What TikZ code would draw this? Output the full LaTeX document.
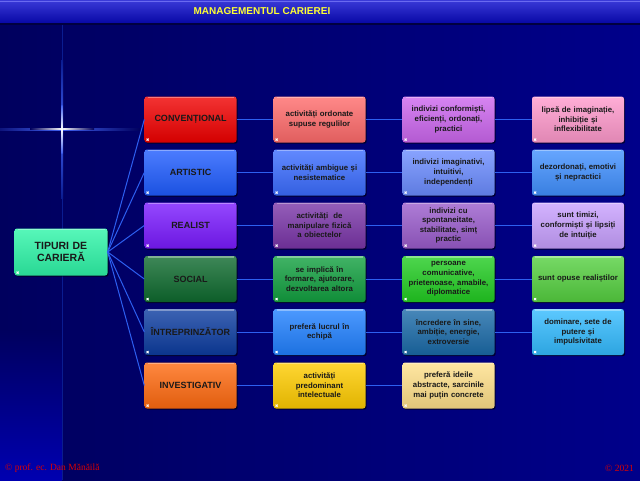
\documentclass[tikz,border=0pt]{standalone}
\usepackage{fontspec}
\setmainfont{Liberation Sans}
\newfontfamily\serifft{Liberation Serif}
\usetikzlibrary{shadows}
\definecolor{bgL}{HTML}{00005E}
\definecolor{bgR}{HTML}{00008A}
\definecolor{bgStrip}{HTML}{0000B0}
\definecolor{vline}{HTML}{0A1C90}
\definecolor{spark}{HTML}{4060F0}
\definecolor{barShadow}{HTML}{000040}
\definecolor{barTop}{HTML}{6A6AF0}
\definecolor{barT}{HTML}{3A3AD8}
\definecolor{barB}{HTML}{0A0AA8}
\definecolor{lnk}{HTML}{2D5FF0}
\definecolor{ttl}{HTML}{FFFF33}
\definecolor{foot}{HTML}{DD0000}
\definecolor{cA}{HTML}{2EF5A8}
\definecolor{r1a}{HTML}{F00000}\definecolor{r1b}{HTML}{FF6B6B}\definecolor{r1c}{HTML}{CC66EE}\definecolor{r1d}{HTML}{FF99CC}
\definecolor{r2a}{HTML}{1F5CFF}\definecolor{r2b}{HTML}{3A6CFF}\definecolor{r2c}{HTML}{6B8CFF}\definecolor{r2d}{HTML}{4090FF}
\definecolor{r3a}{HTML}{7A1AFF}\definecolor{r3b}{HTML}{7A35A8}\definecolor{r3c}{HTML}{9A5CCC}\definecolor{r3d}{HTML}{C8A0FF}
\definecolor{r4a}{HTML}{0E6A2E}\definecolor{r4b}{HTML}{12A040}\definecolor{r4c}{HTML}{22CC22}\definecolor{r4d}{HTML}{55D040}
\definecolor{r5a}{HTML}{0C3CA0}\definecolor{r5b}{HTML}{2080FF}\definecolor{r5c}{HTML}{1A6AA8}\definecolor{r5d}{HTML}{33BBFF}
\definecolor{r6a}{HTML}{FF6A10}\definecolor{r6b}{HTML}{FFCC00}\definecolor{r6c}{HTML}{FFE08A}
\tikzset{
  boxbase/.style={rounded corners=2.5pt, minimum width=92pt, minimum height=46pt,
    align=center, text width=90pt, inner sep=1pt, text=black!90,
    drop shadow={shadow xshift=1.2pt, shadow yshift=-1.2pt, opacity=0.6, fill=black},
    path picture={
      \fill[white] ([xshift=2pt,yshift=2pt]path picture bounding box.south west) rectangle ++(2pt,2pt);
      \draw[white,opacity=0.35,line width=1.4pt] ([xshift=3pt,yshift=-0.8pt]path picture bounding box.north west) -- ([xshift=-3pt,yshift=-0.8pt]path picture bounding box.north east);
    }},
  bx/.style={boxbase, top color=#1!80!white, bottom color=#1!88!black},
  headbox/.style={bx=#1, font=\bfseries\fontsize{9}{10.5}\selectfont},
  txtbox/.style={bx=#1, font=\bfseries\fontsize{7.8}{9.6}\selectfont},
  conn/.style={draw=lnk, line width=1pt}
}
\begin{document}
\begin{tikzpicture}[x=1pt,y=-1pt]
\useasboundingbox (0,0) rectangle (640,480);
% background
\shade[left color=bgL, right color=bgR] (0,0) rectangle (640,480);
\shade[top color=bgL, bottom color=bgStrip] (0,330) rectangle (62,480);
\draw[vline, line width=0.8pt] (62,22) -- (62,480);
% sparkle
\shade[left color=bgL, right color=bgL, middle color=spark] (-16,128) rectangle (140,130.4);
\shade[left color=bgL, right color=bgL, middle color=white] (30,128.6) rectangle (94,129.8);
\shade[top color=vline, bottom color=vline, middle color=spark] (61,60) rectangle (63,198);
\shade[top color=spark, bottom color=spark, middle color=white] (61.4,105) rectangle (62.6,153);
% title bar
\fill[barShadow] (0,22) rectangle (640,25);
\shade[top color=barT, bottom color=barB] (0,0) rectangle (640,22);
\draw[barTop, line width=1pt] (0,1) -- (640,1);
\node[text=ttl, font=\bfseries\fontsize{10}{12}\selectfont] (title) at (262,11.5) {MANAGEMENTUL CARIEREI};
% nodes
\node[bx=cA, minimum width=93pt, minimum height=47pt, font=\bfseries\fontsize{10.5}{12}\selectfont] (root) at (61,252) {TIPURI DE\\CARIERĂ};

\node[headbox=r1a] (a1) at (190.5,119.5) {CONVENȚIONAL};
\node[headbox=r2a] (a2) at (190.5,172.5) {ARTISTIC};
\node[headbox=r3a] (a3) at (190.5,225.5) {REALIST};
\node[headbox=r4a] (a4) at (190.5,279) {SOCIAL};
\node[headbox=r5a] (a5) at (190.5,332) {ÎNTREPRINZĂTOR};
\node[headbox=r6a] (a6) at (190.5,385.5) {INVESTIGATIV};

\node[txtbox=r1b] (b1) at (319.5,119.5) {activități ordonate\\supuse regulilor};
\node[txtbox=r2b] (b2) at (319.5,172.5) {activități ambigue și\\nesistematice};
\node[txtbox=r3b] (b3) at (319.5,225.5) {activități\ \ de\\manipulare fizică\\a obiectelor};
\node[txtbox=r4b] (b4) at (319.5,279) {se implică în\\formare, ajutorare,\\dezvoltarea altora};
\node[txtbox=r5b] (b5) at (319.5,332) {preferă lucrul în\\echipă};
\node[txtbox=r6b] (b6) at (319.5,385.5) {activități\\predominant\\intelectuale};

\node[txtbox=r1c] (c1) at (448.5,119.5) {indivizi conformiști,\\eficienți, ordonați,\\practici};
\node[txtbox=r2c] (c2) at (448.5,172.5) {indivizi imaginativi,\\intuitivi,\\independenți};
\node[txtbox=r3c] (c3) at (448.5,225.5) {indivizi cu\\spontaneitate,\\stabilitate, simț\\practic};
\node[txtbox=r4c] (c4) at (448.5,279) {persoane\\comunicative,\\prietenoase, amabile,\\diplomatice};
\node[txtbox=r5c] (c5) at (448.5,332) {încredere în sine,\\ambiție, energie,\\extroversie};
\node[txtbox=r6c] (c6) at (448.5,385.5) {preferă ideile\\abstracte, sarcinile\\mai puțin concrete};

\node[txtbox=r1d] (d1) at (578,119.5) {lipsă de imaginație,\\inhibiție și\\inflexibilitate};
\node[txtbox=r2d] (d2) at (578,172.5) {dezordonați, emotivi\\și nepractici};
\node[txtbox=r3d] (d3) at (578,225.5) {sunt timizi,\\conformiști și lipsiți\\de intuiție};
\node[txtbox=r4d] (d4) at (578,279) {sunt opuse realiștilor};
\node[txtbox=r5d] (d5) at (578,332) {dominare, sete de\\putere și\\impulsivitate};
% connectors
\foreach \i in {1,...,6} {
  \draw[conn] (root.east) -- (a\i.west);
  \draw[conn] (a\i.east) -- (b\i.west);
  \draw[conn] (b\i.east) -- (c\i.west);
}
\foreach \i in {1,...,5} {
  \draw[conn] (c\i.east) -- (d\i.west);
}
% footer
\node[text=foot, font=\serifft\fontsize{9.5}{11}\selectfont, anchor=west, inner sep=0pt] (f1) at (5,468) {© prof. ec. Dan Mănăilă};
\node[text=foot, font=\serifft\fontsize{9.5}{11}\selectfont, anchor=east, inner sep=0pt] (f2) at (634,468) {© 2021};
\end{tikzpicture}
\end{document}
